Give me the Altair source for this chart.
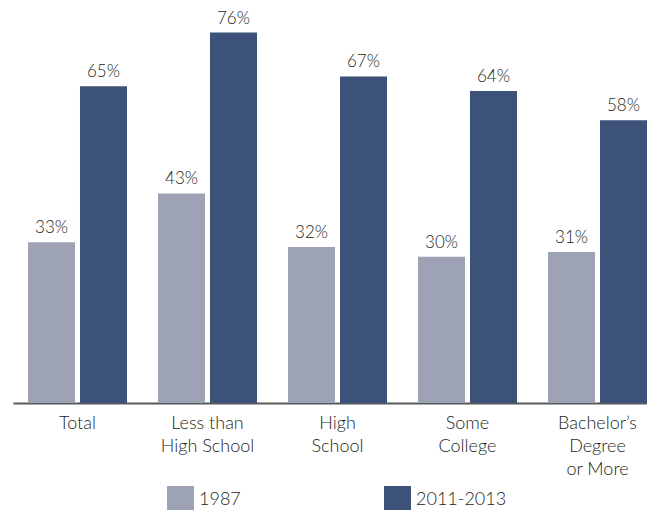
import altair as alt
import pandas as pd

categories = ["Total", "Less than|High School", "High|School", "Some|College", "Bachelor’s|Degree|or More"]
series = ["1987", "2011-2013"]
values_1987 = [33, 43, 32, 30, 31]
values_2011 = [65, 76, 67, 64, 58]
colors = ["#9da3b4", "#3c5279"]

rows = []
for c, v in zip(categories, values_1987):
    rows.append({"cat": c, "series": series[0], "value": v})
for c, v in zip(categories, values_2011):
    rows.append({"cat": c, "series": series[1], "value": v})
df = pd.DataFrame(rows)
df["label"] = df["value"].astype(str) + "%"

FONT = "Lato"
WEIGHT = 300
TEXT_COLOR = "#231f20"

x = alt.X(
    "cat:N",
    sort=categories,
    scale=alt.Scale(paddingInner=0.2385, paddingOuter=0.0577, align=1, round=False),
    axis=alt.Axis(
        title=None,
        ticks=False,
        labelAngle=0,
        labelExpr="split(datum.label, '|')",
        labelFont=FONT,
        labelFontWeight=WEIGHT,
        labelFontSize=18,
        labelLineHeight=23,
        labelColor=TEXT_COLOR,
        labelPadding=11,
        domainColor="#58595b",
        domainWidth=2,
        grid=False,
    ),
)
xoff = alt.XOffset("series:N", sort=series, scale=alt.Scale(paddingInner=0.096, paddingOuter=0, round=False))
y = alt.Y("value:Q", scale=alt.Scale(domain=[0, 80]), axis=None)

base = alt.Chart(df).encode(x=x, xOffset=xoff, y=y)

bars = base.mark_bar().encode(
    color=alt.Color(
        "series:N",
        sort=series,
        scale=alt.Scale(domain=series, range=colors),
        legend=alt.Legend(
            title=None,
            orient="none",
            legendX=154,
            legendY=473,
            direction="horizontal",
            symbolType="square",
            symbolSize=729,
            symbolStrokeWidth=0,
            labelFont=FONT,
            labelFontWeight=WEIGHT,
            labelFontSize=18,
            labelColor=TEXT_COLOR,
            labelOffset=5,
            columnPadding=143,
            padding=0,
        ),
    )
)

text = base.mark_text(
    baseline="alphabetic", dy=-9, font=FONT, fontWeight=WEIGHT, fontSize=17, color=TEXT_COLOR
).encode(text="label:N")

chart = (
    alt.layer(bars, text)
    .properties(
        width=634,
        height=390,
        autosize=alt.AutoSizeParams(type="none"),
        padding={"left": 5, "top": 5, "right": 0, "bottom": 107},
    )
    .configure_view(stroke=None)
)

chart.save("out.html", embed_options={"renderer": "svg", "actions": False})
